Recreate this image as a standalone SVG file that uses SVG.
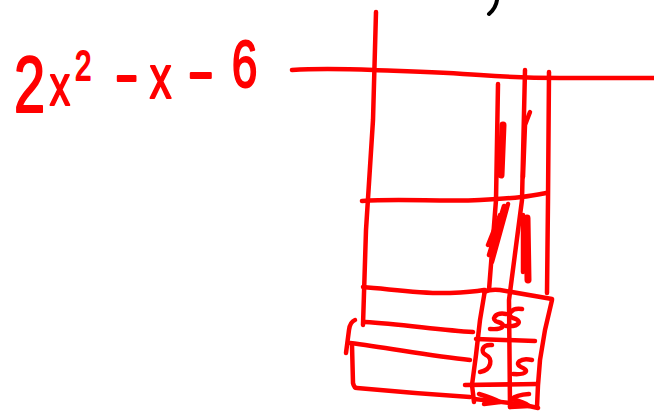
<svg xmlns="http://www.w3.org/2000/svg" width="654" height="412" viewBox="0 0 654 412">
<style>
.s{fill:none;stroke:#ff0000;stroke-width:4.5;stroke-linecap:round;stroke-linejoin:round}
.t{stroke-width:7}
.lbl{fill:#ff0000;stroke:#ff0000;stroke-width:2;stroke-linejoin:round;font-family:"Liberation Sans",Arial,sans-serif}
</style>
<rect width="654" height="412" fill="#ffffff"/>
<g id="expression">
<text class="lbl" transform="scale(0.7,1)"><tspan x="20" y="112" font-size="80">2</tspan><tspan x="71" y="105" font-size="58">x</tspan><tspan x="107" y="80" font-size="42">2</tspan><tspan x="164" y="96" font-size="64" textLength="34" lengthAdjust="spacingAndGlyphs">-</tspan><tspan x="214" y="98" font-size="62">x</tspan><tspan x="268" y="93" font-size="64" textLength="38" lengthAdjust="spacingAndGlyphs">-</tspan><tspan x="331" y="87" font-size="66">6</tspan></text>
</g>
<g id="mark">
<path d="M497,0 Q496,8 489,14" fill="none" stroke="#000" stroke-width="4" stroke-linecap="round"/>
</g>
<g id="frame">
<path class="s" d="M292,70 C320,68 350,69 374,70 S440,72 480,75 S540,78 560,78 L654,78"/>
<path class="s" d="M376,12 L373,120 L366,230 L363,325"/>
<path class="s" d="M362,201 C400,198 440,202 480,200 S530,196 546,193"/>
<path class="s" d="M363,287 C390,289 420,294 450,293 Q472,292 484,290"/>
<path class="s" d="M498,84 L496,200 L489,290"/>
<path class="s" d="M525,70 L522,200 L509,300 L510,407"/>
<path class="s" d="M549,72 L548,200 L547,293"/>
</g>
<g id="small-grid">
<path class="s" d="M484,292 Q490,289 500,290 L552,299"/>
<path class="s" d="M552,300 L545,330 L540,360 L538,385 L537,407"/>
<path class="s" d="M485,290 L480,320 L476,355 L472,385 L474,402"/>
<path class="s" d="M476,339 L535,341"/>
<path class="s" d="M465,385 L537,384"/>
<path class="s" d="M474,399 Q500,402 520,404 L538,408"/>
</g>
<g id="left-box">
<path class="s" d="M355,320 Q350,322 349,330 L346,353"/>
<path class="s" d="M365,322 C400,324 440,330 473,332"/>
<path class="s" d="M350,343 C390,348 430,356 470,360"/>
<path class="s" d="M352,345 L353,383 Q354,388 357,388 C400,392 440,395 470,397"/>
</g>
<g id="shading">
<path class="s t" d="M503,125 L501,175"/>
<path class="s" d="M530,112 L525,125 L523,177"/>
<path class="s" d="M508,204 L492,262 M504,206 L489,255 M500,215 L488,245"/>
<path class="s t" d="M527,218 L528,280"/>
<path class="s" d="M523,215 L523,272"/>
<path class="s" d="M506,314 C495,312 490,320 498,322 C506,324 505,330 490,329"/>
<path class="s" d="M522,309 C511,307 506,316 513,318 C522,320 521,327 506,326"/>
<path class="s" d="M492,345 C482,344 480,352 486,355 C493,358 492,370 480,372"/>
<path class="s" d="M532,360 C520,357 514,364 521,367 C529,370 528,375 513,374"/>
<path class="s" d="M479,394 Q492,398 500,402 L484,404"/>
<path class="s" d="M529,394 Q516,395 512,399 Q524,402 529,406 L510,407"/>
</g>
</svg>
